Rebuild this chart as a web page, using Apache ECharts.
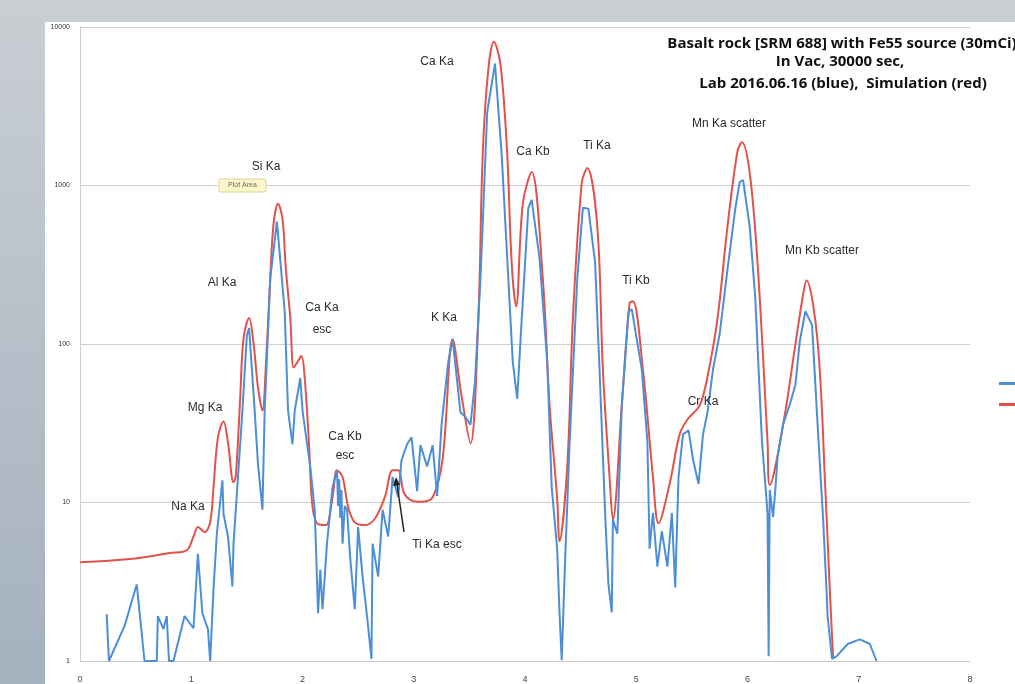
<!DOCTYPE html>
<html>
<head>
<meta charset="utf-8">
<script src="https://cdn.jsdelivr.net/npm/echarts@6/dist/echarts.min.js"></script>
<style>
html,body{margin:0;padding:0;}
#c{width:1015px;height:684px;}
</style>
</head>
<body>
<div id="c"></div>
<script>
// ---- data (energy keV, counts) ----
const seriesNames = ['Lab 2016.06.16', 'Simulation'];
const xTicks = ['0','1','2','3','4','5','6','7','8'];
const yTicks = ['1','10','100','1000','10000'];

const labEnergy = [0.24,0.26,0.40,0.51,0.58,0.69,0.70,0.75,0.78,0.80,0.84,0.94,1.02,1.06,1.10,1.15,1.17,1.20,1.23,1.28,1.29,1.33,1.37,1.38,1.42,1.46,1.50,1.52,1.57,1.60,1.64,1.66,1.71,1.77,1.84,1.87,1.91,1.93,1.98,2.00,2.07,2.11,2.14,2.16,2.18,2.22,2.27,2.31,2.32,2.33,2.34,2.35,2.36,2.38,2.40,2.43,2.47,2.50,2.54,2.58,2.62,2.63,2.68,2.72,2.77,2.81,2.86,2.89,2.94,2.98,3.03,3.06,3.12,3.17,3.21,3.25,3.31,3.35,3.42,3.46,3.51,3.55,3.60,3.66,3.73,3.79,3.85,3.89,3.93,3.97,4.03,4.06,4.13,4.20,4.24,4.29,4.31,4.33,4.36,4.40,4.47,4.52,4.57,4.63,4.67,4.72,4.75,4.78,4.79,4.83,4.87,4.93,4.96,5.05,5.10,5.12,5.15,5.19,5.23,5.28,5.32,5.35,5.38,5.42,5.47,5.51,5.56,5.60,5.64,5.69,5.75,5.82,5.89,5.93,5.96,6.02,6.07,6.13,6.18,6.19,6.20,6.23,6.25,6.27,6.32,6.38,6.43,6.47,6.52,6.53,6.58,6.63,6.68,6.71,6.72,6.76,6.80,6.90,7.01,7.10,7.16];
const labCounts = [1.97,1.0,1.66,3.04,1.0,1.0,1.92,1.59,1.92,1.0,1.0,1.92,1.61,4.75,2.0,1.59,1.0,2.83,6.35,13.8,8.5,6.1,2.95,5.5,14.5,38,114,126,38,17.4,9.0,38,259,591,161,38,23.3,38,61,38,16.7,9.0,2.0,3.78,2.12,5.5,12.5,16.0,9.5,14.0,8.0,12.0,5.5,9.5,9.0,4.36,2.12,7.0,3.41,1.92,1.03,5.5,3.41,9.0,6.1,14.5,10.8,18.5,23.3,25.8,11.8,23.0,16.9,23.0,11.0,31,77,107,37,35,31,57,259,2890,5870,1578,259,77,45,142,723,811,351,77,12.5,5.0,2.03,1.01,4.2,23,259,723,713,327,69,8.6,3.04,2.03,7.8,6.35,41,159,166,69,24.3,5.1,8.6,3.94,6.6,3.94,8.6,2.91,14.5,26.9,28.5,18.7,13.1,26.9,37,69,116,295,713,1052,1083,550,194,24.3,8.6,1.07,12.0,8.1,12.0,19.3,31,41.5,55,104,161,161,132,31,7.8,2.83,1.92,1.03,1.07,1.28,1.37,1.28,1.0];

const simEnergy = [0,0.45,0.81,0.96,1.02,1.06,1.12,1.17,1.20,1.24,1.29,1.33,1.38,1.40,1.44,1.47,1.52,1.56,1.60,1.64,1.67,1.71,1.74,1.78,1.82,1.85,1.89,1.92,1.95,1.99,2.02,2.06,2.09,2.14,2.21,2.27,2.31,2.36,2.41,2.47,2.56,2.65,2.74,2.81,2.86,2.91,2.97,3.06,3.17,3.26,3.35,3.43,3.51,3.58,3.62,3.67,3.72,3.78,3.84,3.88,3.92,3.98,4.06,4.16,4.22,4.29,4.31,4.38,4.43,4.51,4.56,4.65,4.70,4.76,4.79,4.87,4.94,4.97,5.06,5.15,5.20,5.30,5.39,5.46,5.57,5.64,5.73,5.82,5.91,5.95,6.02,6.09,6.18,6.20,6.32,6.43,6.49,6.53,6.63,6.70,6.74,6.77];
const simCounts = [4.2,4.4,4.8,5.0,6.1,7.0,6.5,7.5,12.5,25.8,32.4,23.9,13.4,14.5,45.9,109,146,101,53,38,71,259,574,766,617,300,146,71,76,84,61,22.3,9.4,7.3,7.2,10.8,16.0,14.5,9.4,7.5,7.2,7.9,10.8,16.0,16.0,11.6,10.4,10.1,10.8,19.0,107,47,23.6,142,1578,5380,8060,5780,1578,327,173,766,1216,259,42,10.4,5.7,16.9,142,1037,1290,550,69,14.5,7.8,41,181,186,69,14.5,7.4,13.1,26.9,33.4,41,62,144,550,1645,1875,1199,327,24.3,12.9,31,99,186,252,104,12.0,2.8,1.03];

const labData = labEnergy.map((e,i)=>[e,labCounts[i]]);
const simData = simEnergy.map((e,i)=>[e,simCounts[i]]);

const BLUE = '#4d8fd6';
const RED = '#e2524c';
const TXT = '#2b2b2b';
const NOTE_FONT = '12px "Liberation Sans", Arial, sans-serif';
const TITLE_FONT = 'bold 15px "Open Sans", "Liberation Sans", Arial, sans-serif';

function note(text, x, y, lh){
  return {type:'text', z:10, silent:true,
    style:{text:text, x:x, y:y, textAlign:'center', textVerticalAlign:'middle', lineHeight:lh||14, fill:TXT, font:NOTE_FONT}};
}
function titleLine(text, x, y){
  return {type:'text', z:10, silent:true,
    style:{text:text, x:x, y:y, textAlign:'center', textVerticalAlign:'middle', fill:'#111', font:TITLE_FONT}};
}

const chart = echarts.init(document.getElementById('c'), null, {renderer:'canvas'});
chart.setOption({
  animation:false,
  backgroundColor:{type:'linear', x:0, y:0, x2:0, y2:1, colorStops:[{offset:0,color:'#c9ced3'},{offset:1,color:'#a4b1bf'}]},
  graphic:[
    {type:'rect', shape:{x:45, y:22, width:980, height:670}, style:{fill:'#ffffff'}, z:-10, silent:true},
    note('Ca Ka', 437, 62),
    note('Ca Kb', 533, 152),
    note('Ti Ka', 597, 146),
    note('Mn Ka scatter', 729, 124),
    note('Mn Kb scatter', 822, 251),
    note('Ti Kb', 636, 281),
    note('Cr Ka', 703, 402),
    note('K Ka', 444, 318),
    note('Si Ka', 266, 167),
    note('Al Ka', 222, 283),
    note('Ca Ka\nesc', 322, 319, 22),
    note('Mg Ka', 205, 408),
    note('Ca Kb\nesc', 345, 446, 19),
    note('Na Ka', 188, 507),
    note('Ti Ka esc', 437, 545),
    {type:'line', shape:{x1:404, y1:532, x2:397, y2:484}, style:{stroke:'#222', lineWidth:1.5}, z:20},
    {type:'polygon', shape:{points:[[396,477],[393,486],[400,485]]}, style:{fill:'#222'}, z:20},
    {type:'rect', shape:{x:219, y:179, width:47, height:13, r:2}, style:{fill:'#fbf7c8', stroke:'#d8d29a', lineWidth:1}, z:15},
    {type:'text', style:{text:'Plot Area', x:242.5, y:185.5, textAlign:'center', textVerticalAlign:'middle', fill:'#666', font:'7px "Liberation Sans", Arial, sans-serif'}, z:16},
    titleLine('Basalt rock [SRM 688] with Fe55 source (30mCi)', 842, 44),
    titleLine('In Vac, 30000 sec,', 840, 62),
    titleLine('Lab 2016.06.16 (blue),  Simulation (red)', 843, 84)
  ],
  legend:{
    orient:'vertical', left:994, top:373, itemGap:10, itemWidth:26, itemHeight:3, icon:'rect',
    data:seriesNames, textStyle:{fontSize:11, color:'#333'}
  },
  grid:{left:80, right:45, top:27, bottom:19, containLabel:false},
  xAxis:{
    type:'value', min:0, max:8, interval:1,
    axisLine:{show:true, lineStyle:{color:'#c8c8c8'}},
    axisTick:{show:false},
    splitLine:{show:false},
    axisLabel:{margin:14, fontSize:9, color:'#444', formatter:(v)=>xTicks[Math.round(v)]}
  },
  yAxis:{
    type:'log', logBase:10, min:1, max:10000,
    axisLine:{show:true, lineStyle:{color:'#d0d0d0'}},
    axisTick:{show:false},
    splitLine:{show:true, lineStyle:{color:'#cfcfcf', width:1}},
    axisLabel:{fontSize:7, color:'#333', margin:10, formatter:(v)=>yTicks[Math.round(Math.log10(v))]}
  },
  series:[
    {name:seriesNames[0], type:'line', data:labData, showSymbol:false, symbol:'none', smooth:false,
     lineStyle:{color:BLUE, width:2}, itemStyle:{color:BLUE}, z:3},
    {name:seriesNames[1], type:'line', data:simData, showSymbol:false, symbol:'none', smooth:0.35,
     lineStyle:{color:RED, width:2}, itemStyle:{color:RED}, z:2}
  ]
});
</script>
</body>
</html>
